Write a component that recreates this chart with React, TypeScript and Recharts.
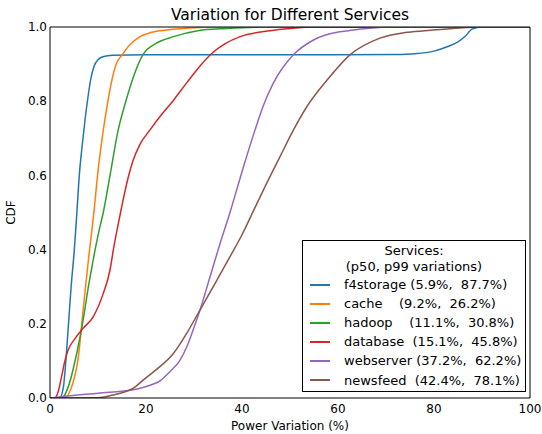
import React from "react";
import { LineChart, Line, XAxis, YAxis } from "recharts";

const xTicks = [0, 20, 40, 60, 80, 100];
const yTicks = [0, 0.2, 0.4, 0.6, 0.8, 1.0];

const f4storageX = [0, 2, 2.8, 3.3, 3.8, 4.4, 5.07, 5.6, 6.1, 6.7, 7.3, 7.9, 8.5, 9.2, 10, 11, 13, 20, 40, 60, 72, 76, 80, 83, 85, 86.5, 88, 90, 100];
const f4storageY = [0, 0, 0.03, 0.1, 0.19, 0.3, 0.4, 0.5, 0.6, 0.68, 0.75, 0.81, 0.86, 0.895, 0.912, 0.92, 0.924, 0.925, 0.925, 0.925, 0.926, 0.928, 0.935, 0.948, 0.96, 0.975, 0.995, 1, 1];

const cacheX = [0, 3, 4.5, 5.9, 6.9, 8.0, 8.7, 9.3, 9.9, 10.5, 11.1, 11.8, 12.7, 13.8, 15.1, 16.5, 18.75, 21, 24.3, 27, 32, 40, 100];
const cacheY = [0, 0, 0.03, 0.11, 0.237, 0.372, 0.45, 0.52, 0.6, 0.665, 0.722, 0.78, 0.845, 0.9, 0.926, 0.95, 0.974, 0.985, 0.992, 0.995, 0.999, 1, 1];

const hadoopX = [0, 2.5, 3.8, 5.56, 6.9, 8.0, 9.0, 9.4, 10.2, 11.1, 12.5, 14.2, 15.8, 17.5, 19.4, 22, 25.7, 30.8, 36.8, 45, 100];
const hadoopY = [0, 0, 0.03, 0.12, 0.21, 0.3, 0.372, 0.4, 0.45, 0.5, 0.6, 0.722, 0.8, 0.87, 0.926, 0.955, 0.974, 0.99, 0.996, 1, 1];

const databaseX = [0, 1, 1.7, 2.4, 3.1, 3.8, 5.2, 6.9, 9.0, 11.1, 12.5, 13.2, 14.7, 15.5, 16.3, 17.3, 18.8, 20.8, 23, 25.7, 28.5, 31.25, 33.3, 36.5, 39.6, 45.8, 50, 56, 100];
const databaseY = [0, 0, 0.017, 0.057, 0.1, 0.13, 0.16, 0.188, 0.219, 0.282, 0.345, 0.4, 0.5, 0.55, 0.595, 0.64, 0.685, 0.722, 0.76, 0.802, 0.85, 0.895, 0.924, 0.955, 0.974, 0.99, 0.996, 1, 1];

const webserverX = [0, 2, 10, 17.3, 21, 23, 25, 27, 28.5, 30, 31.25, 33.3, 35.4, 37.5, 40, 42.7, 44.5, 46.5, 50.7, 54.9, 60.4, 62.2, 66, 72, 100];
const webserverY = [0, 0.003, 0.013, 0.022, 0.035, 0.047, 0.071, 0.1, 0.138, 0.19, 0.237, 0.325, 0.415, 0.5, 0.61, 0.722, 0.79, 0.848, 0.925, 0.965, 0.987, 0.99, 0.996, 1, 1];

const newsfeedX = [0, 10, 13.1, 15.5, 17.3, 19.4, 22, 25.7, 28.5, 31.25, 34, 37.5, 40, 42.4, 45, 47.9, 50.7, 53.5, 57.6, 62.5, 68.75, 74, 78.1, 84, 90, 100];
const newsfeedY = [0, 0.001, 0.008, 0.016, 0.026, 0.048, 0.075, 0.12, 0.175, 0.237, 0.3, 0.381, 0.44, 0.505, 0.575, 0.65, 0.722, 0.785, 0.855, 0.925, 0.97, 0.985, 0.99, 0.996, 1, 1];

const zip = (xs: number[], ys: number[]) => xs.map((x, i) => ({ x, y: ys[i] }));

const series = [
  { name: "f4storage", label: "f4storage (5.9%,  87.7%)", color: "#1f77b4", data: zip(f4storageX, f4storageY) },
  { name: "cache", label: "cache    (9.2%,  26.2%)", color: "#ff7f0e", data: zip(cacheX, cacheY) },
  { name: "hadoop", label: "hadoop    (11.1%,  30.8%)", color: "#2ca02c", data: zip(hadoopX, hadoopY) },
  { name: "database", label: "database  (15.1%,  45.8%)", color: "#d62728", data: zip(databaseX, databaseY) },
  { name: "webserver", label: "webserver (37.2%,  62.2%)", color: "#9467bd", data: zip(webserverX, webserverY) },
  { name: "newsfeed", label: "newsfeed  (42.4%,  78.1%)", color: "#8c564b", data: zip(newsfeedX, newsfeedY) },
];

const font = "'DejaVu Sans', sans-serif";
const noLabel = () => <g />;

function LegendBox() {
  return (
    <div
      style={{
        position: "absolute",
        left: 302,
        top: 240,
        width: 224,
        height: 152,
        boxSizing: "border-box",
        border: "1px solid #000",
        background: "#fff",
        fontFamily: font,
        fontSize: 13,
        color: "#000",
        paddingTop: 2,
      }}
    >
      <div style={{ textAlign: "center", lineHeight: "16px" }}>Services:</div>
      <div style={{ textAlign: "center", lineHeight: "16px" }}>(p50, p99 variations)</div>
      {series.map((s) => (
        <div key={s.name} style={{ display: "flex", alignItems: "center", height: 19.1 }}>
          <div style={{ width: 20, height: 0, borderTop: `2px solid ${s.color}`, marginLeft: 7, marginRight: 14 }} />
          <span style={{ whiteSpace: "pre" }}>{s.label}</span>
        </div>
      ))}
    </div>
  );
}

export default function App() {
  return (
    <div style={{ position: "absolute", left: 0, top: 0, width: 542, height: 434, background: "#fff" }}>
      <LineChart
        width={542}
        height={434}
        margin={{ top: 27, right: 12, bottom: 0, left: 0 }}
        style={{ fontFamily: font }}
      >
        <XAxis
          xAxisId="b"
          type="number"
          dataKey="x"
          domain={[0, 100]}
          ticks={xTicks}
          allowDataOverflow
          tickLine={false}
          tickSize={0}
          tickMargin={6}
          axisLine={{ stroke: "#000", strokeWidth: 1 }}
          tick={{ fill: "#000", fontSize: 12 }}
          height={36}
          label={{ value: "Power Variation (%)", position: "insideBottom", offset: 4, fill: "#000", fontSize: 12 }}
        />
        <XAxis
          xAxisId="bm"
          type="number"
          dataKey="x"
          domain={[0, 100]}
          ticks={xTicks}
          mirror
          tick={noLabel}
          tickSize={4}
          tickLine={{ stroke: "#000" }}
          axisLine={false}
        />
        <XAxis
          xAxisId="t"
          orientation="top"
          type="number"
          dataKey="x"
          domain={[0, 100]}
          ticks={xTicks}
          mirror
          tick={noLabel}
          tickSize={4}
          tickLine={{ stroke: "#000" }}
          axisLine={{ stroke: "#000" }}
        />
        <YAxis
          yAxisId="l"
          type="number"
          domain={[0, 1]}
          ticks={yTicks}
          allowDataOverflow
          tickFormatter={(v: number) => v.toFixed(1)}
          tickLine={false}
          tickSize={0}
          tickMargin={3}
          axisLine={{ stroke: "#000" }}
          tick={{ fill: "#000", fontSize: 12 }}
          width={50}
          label={{
            content: (props: any) => {
              const vb = props.viewBox || { y: 27, height: 371 };
              const cy = vb.y + vb.height / 2;
              return (
                <text
                  x={11}
                  y={cy}
                  transform={`rotate(-90, 11, ${cy})`}
                  textAnchor="middle"
                  dominantBaseline="central"
                  fill="#000"
                  fontSize={12}
                  fontFamily={font}
                >
                  CDF
                </text>
              );
            },
          }}
        />
        <YAxis
          yAxisId="lm"
          type="number"
          domain={[0, 1]}
          ticks={yTicks}
          mirror
          tick={noLabel}
          tickSize={4}
          tickLine={{ stroke: "#000" }}
          axisLine={false}
        />
        <YAxis
          yAxisId="r"
          orientation="right"
          type="number"
          domain={[0, 1]}
          ticks={yTicks}
          mirror
          tick={noLabel}
          tickSize={4}
          tickLine={{ stroke: "#000" }}
          axisLine={{ stroke: "#000" }}
        />
        {series.map((s) => (
          <Line
            key={s.name}
            xAxisId="b"
            yAxisId="l"
            data={s.data}
            dataKey="y"
            name={s.name}
            type="monotone"
            stroke={s.color}
            strokeWidth={1.5}
            dot={false}
            isAnimationActive={false}
          />
        ))}
      </LineChart>
      <div
        style={{
          position: "absolute",
          left: 50,
          width: 480,
          top: 6,
          textAlign: "center",
          fontFamily: font,
          fontSize: 15.5,
          lineHeight: "18px",
          color: "#000",
        }}
      >
        Variation for Different Services
      </div>
      <LegendBox />
    </div>
  );
}
